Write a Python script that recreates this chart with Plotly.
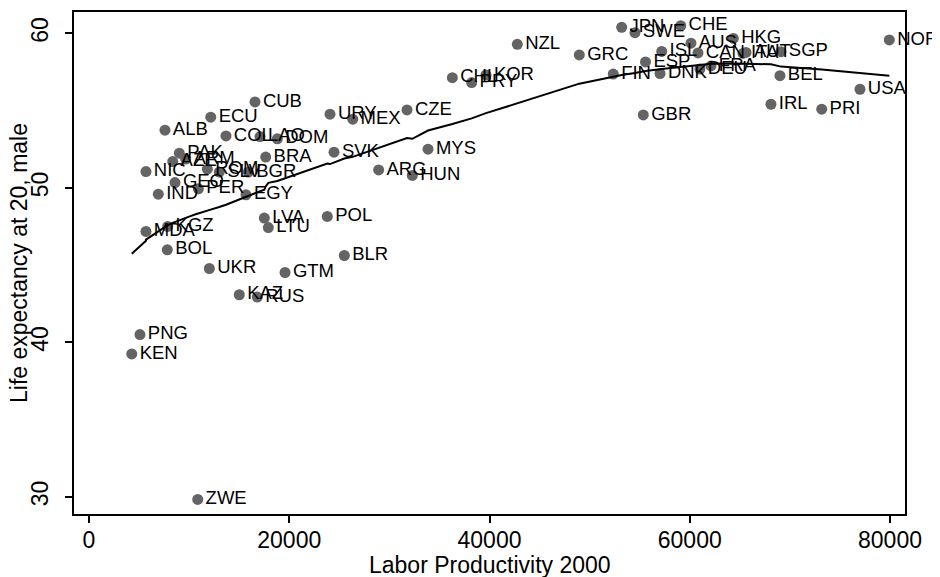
import numpy as np
import plotly.graph_objects as go

countries = ["JPN","SWE","CHE","HKG","AUS","ISL","CAN","ITA","AUT","SGP","GRC","ESP","DEU","FRA",
             "DNK","FIN","BEL","IRL","PRI","USA","GBR","NOR","NZL","CHL","PRY","KOR","CZE","MYS",
             "ARG","HUN","URY","MEX","SVK","POL","BLR","GTM","CUB","ECU","ALB","COL","LAO","DOM",
             "BRA","PAK","AZE","ARM","NIC","ROM","SLV","BGR","GEO","PER","IND","EGY","LVA","LTU",
             "KGZ","MDA","BOL","UKR","KAZ","RUS","PNG","KEN","ZWE"]
productivity = [53200,54530,59100,64350,60120,57200,60820,65320,65620,69110,48970,55580,61020,62120,
                57030,52360,69010,68110,73180,77000,55360,79930,42780,36290,38220,39650,31760,33860,
                28930,32290,24070,26340,24470,23800,25500,19580,16580,12160,7590,13680,17080,18810,
                17650,9020,8360,9660,5690,11820,13010,15910,8590,10920,6920,15680,17510,17910,
                7860,5690,7820,12020,15010,16810,5090,4270,10860]
life_exp_20 = [60.40,60.05,60.50,59.68,59.37,58.84,58.74,58.71,58.77,58.82,58.61,58.16,57.70,57.90,
               57.41,57.37,57.27,55.42,55.10,56.39,54.73,59.58,59.30,57.14,56.82,57.32,55.05,52.51,
               51.17,50.81,54.78,54.45,52.32,48.16,45.63,44.53,55.57,54.58,53.74,53.37,53.33,53.18,
               52.00,52.25,51.71,51.87,51.06,51.22,51.03,51.03,50.35,49.95,49.60,49.56,48.05,47.44,
               47.51,47.19,46.00,44.79,43.09,42.94,40.51,39.26,29.84]

x_ticks = [0, 20000, 40000, 60000, 80000]
y_ticks = [30, 40, 50, 60]


def stata_lowess(x, y, bwidth=0.8):
    """Running-line smoother with tricube weights (Stata lowess default)."""
    x = np.asarray(x, float)
    y = np.asarray(y, float)
    order = np.argsort(x, kind="mergesort")
    xs, ys = x[order], y[order]
    n = len(xs)
    k = int(np.floor((n * bwidth - 0.5) / 2))
    fit = np.empty(n)
    for i in range(n):
        lo, hi = max(0, i - k), min(n - 1, i + k)
        xi, yi = xs[lo:hi + 1], ys[lo:hi + 1]
        delta = 1.0001 * max(xs[hi] - xs[i], xs[i] - xs[lo])
        w = (1 - (np.abs(xi - xs[i]) / delta) ** 3) ** 3
        sw = w.sum()
        mx = (w * xi).sum() / sw
        my = (w * yi).sum() / sw
        sxx = (w * (xi - mx) ** 2).sum()
        b = (w * (xi - mx) * (yi - my)).sum() / sxx if sxx > 0 else 0.0
        fit[i] = my + b * (xs[i] - mx)
    return xs, fit


lx, ly = stata_lowess(productivity, life_exp_20, bwidth=0.8)

font = "Liberation Sans, Arial, sans-serif"
fig = go.Figure()
fig.add_trace(go.Scatter(
    x=productivity, y=life_exp_20, text=countries, mode="markers+text",
    textposition="middle right",
    marker=dict(size=11, color="#646464"),
    textfont=dict(family=font, size=18.5, color="black"),
    cliponaxis=False, showlegend=False, hoverinfo="text+x+y"))
fig.add_trace(go.Scatter(
    x=lx, y=ly, mode="lines", line=dict(color="black", width=2),
    showlegend=False, hoverinfo="skip"))

fig.update_layout(
    width=932, height=569,
    margin=dict(l=66, r=35, t=4, b=62.5, autoexpand=False),
    paper_bgcolor="white", plot_bgcolor="white",
    font=dict(family=font, size=23, color="black"),
    xaxis=dict(range=[-1498, 81498], tickvals=x_ticks, ticktext=[str(v) for v in x_ticks],
               ticks="outside", ticklen=7, tickwidth=1.5, tickcolor="black",
               showline=True, mirror=True, linecolor="black", linewidth=1.5,
               showgrid=False, zeroline=False, automargin=False,
               ticklabelstandoff=-2, tickfont=dict(size=23)),
    yaxis=dict(range=[28.90, 61.39], tickvals=y_ticks, ticktext=[str(v) for v in y_ticks],
               ticks="outside", ticklen=7, tickwidth=1.5, tickcolor="black",
               showline=True, mirror=True, linecolor="black", linewidth=1.5,
               showgrid=False, zeroline=False, tickangle=-90, automargin=False,
               ticklabelstandoff=8, tickfont=dict(size=23)),
    annotations=[
        dict(text="Labor Productivity 2000", xref="paper", yref="paper", x=0.5, y=0,
             xanchor="center", yanchor="middle", yshift=-51, showarrow=False,
             font=dict(size=23)),
        dict(text="Life expectancy at 20, male", xref="paper", yref="paper", x=0, y=0.5,
             xanchor="center", yanchor="middle", xshift=-55, textangle=-90, showarrow=False,
             font=dict(size=23)),
    ],
)

fig.write_html("out.html")
